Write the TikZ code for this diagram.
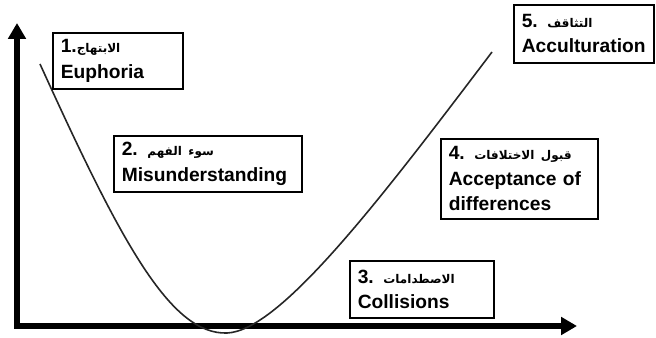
\documentclass[tikz,border=0pt]{standalone}
\usepackage{fontspec}
\setmainfont{Liberation Sans}
\newfontfamily\arabicfont[Script=Arabic]{DejaVu Sans}
\TeXXeTstate=1
\usetikzlibrary{arrows.meta}
\newcommand{\artext}[1]{{\arabicfont\bfseries\fontsize{9}{12}\selectfont\beginR #1\endR}}

\begin{document}
\begin{tikzpicture}[x=0.75pt, y=-0.75pt,
  stagebox/.style={draw, line width=1.2pt, anchor=north west, inner xsep=6pt, align=left, font=\fontsize{14.4}{19}\selectfont\bfseries},
  axis/.style={line width=4.5pt, -{Triangle[length=12pt, width=13pt]}},
  curve/.style={line width=1.2pt, black!85}]
\useasboundingbox (0,0) rectangle (656,338);
\coordinate (origin) at (17,326);
\coordinate (ytip) at (17,23);
\coordinate (xtip) at (577,326);
\coordinate (start) at (40,64);
\coordinate (bottom) at (227,333);
\coordinate (finish) at (492,52);
\draw[axis] ([yshift=-1.5pt]origin) -- (ytip);
\draw[axis] ([xshift=-2.2pt]origin) -- (xtip);
\draw[curve] (start) .. controls (120,240) and (170,335) .. (bottom)
  .. controls (280,331) and (380,200) .. (finish);
\node[stagebox, text width=85.5pt, minimum height=42pt] (euphoria) at (52,32) {1.\artext{الابتهاج}\\Euphoria};
\node[stagebox, text width=129pt, minimum height=42pt] (misunder) at (113,135) {2. \artext{سوء الفهم}\\Misunderstanding};
\node[stagebox, text width=96pt, minimum height=42.75pt] (collide) at (349,260) {3. \artext{الاصطدامات}\\Collisions};
\node[stagebox, text width=105.75pt, minimum height=60pt] (accept) at (440,138) {4. \artext{قبول الاختلافات}\\Acceptance of\\differences};
\node[stagebox, text width=93pt, minimum height=43.5pt] (accult) at (513,4) {5. \artext{التثاقف}\\Acculturation};
\end{tikzpicture}
\end{document}
